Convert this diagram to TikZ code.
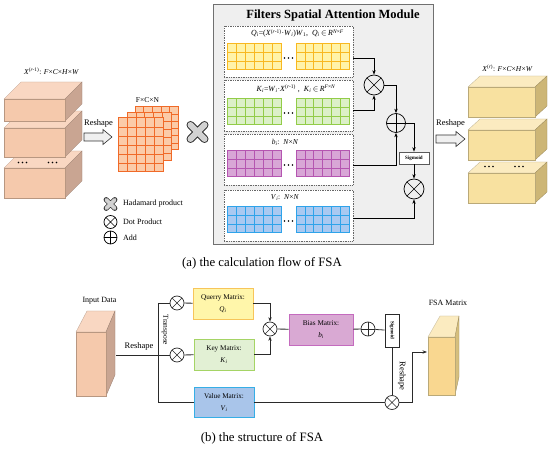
\documentclass[tikz,border=0pt]{standalone}
\usepackage{fontspec}
\setmainfont{Liberation Serif}
\usetikzlibrary{arrows.meta}

\definecolor{peachF}{HTML}{F5C9AC}
\definecolor{peachT}{HTML}{F9D7C2}
\definecolor{peachS}{HTML}{C9A592}
\definecolor{goldF}{HTML}{F8E1A0}
\definecolor{goldT}{HTML}{FBEBC0}
\definecolor{goldS}{HTML}{CDB676}
\definecolor{orgF}{HTML}{FBCBA8}
\definecolor{orgL}{HTML}{F06A28}
\definecolor{yelF}{HTML}{FFF3A8}
\definecolor{yelL}{HTML}{F8B820}
\definecolor{grnF}{HTML}{DCF0C8}
\definecolor{grnL}{HTML}{92CC48}
\definecolor{purF}{HTML}{D8A6D6}
\definecolor{purL}{HTML}{B455B0}
\definecolor{bluF}{HTML}{A9C9F1}
\definecolor{bluL}{HTML}{2EA3EA}
\definecolor{modbg}{HTML}{EFEFEF}
\definecolor{modline}{HTML}{707070}
\definecolor{qF}{HTML}{FFF6AA}
\definecolor{qL}{HTML}{F7C55A}
\definecolor{kF}{HTML}{E2F0D4}
\definecolor{kL}{HTML}{A5D465}
\definecolor{vF}{HTML}{A9C5EA}
\definecolor{vL}{HTML}{36AEE6}
\definecolor{bF}{HTML}{D9A9D3}
\definecolor{bL}{HTML}{C46BBE}
\definecolor{lnc}{HTML}{2A2A2A}

\newcommand{\ti}[1]{\textit{#1}}
\newcommand{\sbs}[1]{\textsubscript{#1}}
\newcommand{\sps}[1]{\textsuperscript{#1}}

% front-top-left corner (x,y), width, height, depth dx, dy, colours
\newcommand{\mycuboid}[9]{%
  \filldraw[fill=#8,draw=#8!75!black,line width=0.3pt] (#1,#2) -- ++(#5,-#6) -- ++(#3,0) -- ++(-#5,#6) -- cycle;
  \filldraw[fill=#9,draw=#9!75!black,line width=0.3pt] (#1+#3,#2) -- ++(#5,-#6) -- ++(0,#4) -- ++(-#5,#6) -- cycle;
  \filldraw[fill=#7,draw=#7!75!black,line width=0.3pt] (#1,#2) rectangle ++(#3,#4);
}
% grid: x0 y0 x1 y1 cols rows fill line
\newcommand{\mgrid}[8]{%
  \filldraw[fill=#7,draw=#8,line width=1pt] (#1,#2) rectangle (#3,#4);
  \pgfmathsetmacro\mgdx{(#3-#1)/#5}%
  \pgfmathsetmacro\mgdy{(#4-#2)/#6}%
  \pgfmathtruncatemacro\mgc{#5-1}%
  \pgfmathtruncatemacro\mgr{#6-1}%
  \foreach \i in {1,...,\mgc} {\draw[draw=#8,line width=0.6pt] (#1+\i*\mgdx,#2) -- (#1+\i*\mgdx,#4);}
  \foreach \j in {1,...,\mgr} {\draw[draw=#8,line width=0.6pt] (#1,#2+\j*\mgdy) -- (#3,#2+\j*\mgdy);}
}
% hadamard cross: x y arm outerwidth innerwidth
\newcommand{\hada}[5]{%
  \draw[line width=#4pt,draw=gray!40!black,line cap=round] (#1-#3,#2-#3) -- (#1+#3,#2+#3) (#1-#3,#2+#3) -- (#1+#3,#2-#3);
  \draw[line width=#5pt,draw=gray!35,line cap=round] (#1-#3,#2-#3) -- (#1+#3,#2+#3) (#1-#3,#2+#3) -- (#1+#3,#2-#3);
}
% hollow block arrow: x0 x1 yc
\newcommand{\barrow}[3]{%
  \filldraw[fill=gray!12,draw=gray!40!black,line width=0.6pt] (#1,#3-4) -- (#2-9,#3-4) -- (#2-9,#3-7.5) -- (#2,#3) -- (#2-9,#3+7.5) -- (#2-9,#3+4) -- (#1,#3+4) -- cycle;
}
\newcommand{\threedots}[2]{%
  \fill (#1-4,#2) circle (0.85) (#1,#2) circle (0.85) (#1+4,#2) circle (0.85);
}

\begin{document}
\begin{tikzpicture}[x=1pt,y=-1pt,
  >={Stealth[length=4.5pt,width=3.4pt]},
  lab/.style={font=\fontsize{8}{9.5}\selectfont,inner sep=0pt},
  otimes/.style={circle,draw,inner sep=0pt,minimum size=#1,line width=0.7pt,
    path picture={\draw[line width=0.7pt] (path picture bounding box.north west)--(path picture bounding box.south east)
      (path picture bounding box.north east)--(path picture bounding box.south west);}},
  oplus/.style={circle,draw,inner sep=0pt,minimum size=#1,line width=0.7pt,
    path picture={\draw[line width=0.7pt] (path picture bounding box.north)--(path picture bounding box.south)
      (path picture bounding box.east)--(path picture bounding box.west);}},
  ibox/.style={draw=gray!80!black,densely dotted,fill=white,line width=0.7pt,inner sep=0pt,minimum width=129,minimum height=51},
  sigbox/.style={draw=gray!70!black,fill=white,line width=0.6pt,inner sep=0pt,font=\fontsize{5}{5}\selectfont\bfseries},
  mbox/.style={draw,line width=0.9pt,inner sep=0pt,align=center,font=\fontsize{7.2}{8.5}\selectfont},
  conn/.style={draw=black,line width=0.8pt},
  bconn/.style={draw=lnc,line width=0.8pt}
]
\useasboundingbox (0,0) rectangle (550,449);

% ---------- left input blocks ----------
\mycuboid{4}{168}{61}{30}{17}{17}{peachF}{peachT}{peachS}
\mycuboid{4}{128}{61}{29}{17}{17}{peachF}{peachT}{peachS}
\mycuboid{4}{99}{61}{22}{17}{17}{peachF}{peachT}{peachS}
\threedots{22.5}{162.5}
\threedots{52.5}{162.5}
\node[lab,font=\fontsize{7.5}{9}\selectfont] (xin) at (51.5,71) {\ti{X}\sps{(\ti{r}-1)}: \ti{F}×\ti{C}×\ti{H}×\ti{W}};

% reshape arrow left
\barrow{84}{112}{137}
\node[lab,font=\fontsize{8.5}{10}\selectfont] (rs1) at (98.5,123) {Reshape};

% orange grid stack
\mgrid{135}{107}{178}{150}{5}{6}{orgF}{orgL}
\mgrid{127}{113}{171}{161}{5}{6}{orgF}{orgL}
\mgrid{118}{118}{163}{172}{5}{6}{orgF}{orgL}
\node[lab,font=\fontsize{7.5}{9}\selectfont] (fcn) at (147.5,100) {F×C×N};

% hadamard
\hada{197.5}{132}{7}{8}{6}

% legend
\hada{110.5}{204}{4.3}{5.2}{3.6}
\node[lab,anchor=west] (lgt1) at (123,204) {Hadamard product};
\node[otimes=13] (lg1) at (110.5,222) {};
\node[lab,anchor=west] (lgt2) at (123,222) {Dot Product};
\node[oplus=13] (lg2) at (110.5,237.5) {};
\node[lab,anchor=west] (lgt3) at (123,237.5) {Add};

% ---------- module ----------
\filldraw[fill=modbg,draw=modline,line width=0.8pt] (213,4) rectangle (433,244);
\node[inner sep=0pt,font=\fontsize{12.5}{14}\selectfont\bfseries] (title) at (333,15.5) {Filters Spatial Attention Module};

\node[ibox] (qbox) at (288.5,51.5) {};
\node[ibox] (kbox) at (288.5,105.5) {};
\node[ibox] (bbox) at (288.5,159.5) {};
\node[ibox] (vbox) at (288.5,215.5) {};

\node[lab,font=\fontsize{7.8}{9}\selectfont] (qt) at (297.5,33.5) {\ti{Q}\sbs{\ti{i}}=(\ti{X}\sps{(\ti{r}-1)}·\ti{W}\sbs{\ti{i}})\ti{W}\sbs{1},\ \ \ti{Q}\sbs{\ti{i}}$\,\in\,$\ti{R}\sps{\ti{N}×\ti{F}}};
\node[lab,font=\fontsize{7.8}{9}\selectfont] (kt) at (296,89) {\ti{K}\sbs{\ti{i}}=\ti{W}\sbs{\ti{i}}·\ti{X}\sps{(\ti{r}-1)}\ ,\ \ \ti{K}\sbs{\ti{i}}$\,\in\,$\ti{R}\sps{\ti{F}×\ti{N}}};
\node[lab,font=\fontsize{7.5}{8}\selectfont] (bt) at (285,142) {\ti{b}\sbs{\ti{i}}:\ \ \ti{N}×\ti{N}};
\node[lab,font=\fontsize{7.5}{8}\selectfont] (vt) at (285,198) {\ti{V}\sbs{\ti{i}}:\ \ \ti{N}×\ti{N}};

\mgrid{227}{44}{281}{70}{6}{3}{yelF}{yelL}
\mgrid{296}{44}{349}{70}{6}{3}{yelF}{yelL}
\threedots{288.5}{58}
\mgrid{227}{99}{281}{125}{6}{3}{grnF}{grnL}
\mgrid{296}{99}{349}{125}{6}{3}{grnF}{grnL}
\threedots{288.5}{113}
\mgrid{227}{151}{281}{177}{6}{3}{purF}{purL}
\mgrid{296}{151}{349}{177}{6}{3}{purF}{purL}
\threedots{288.5}{165}
\mgrid{227}{207}{281}{233}{6}{3}{bluF}{bluL}
\mgrid{296}{207}{349}{233}{6}{3}{bluF}{bluL}
\threedots{288.5}{221}

\node[otimes=20] (dot1) at (374,85) {};
\node[oplus=19] (add1) at (396,123) {};
\node[sigbox,minimum width=30,minimum height=12] (sig1) at (414,158) {Sigmoid};
\node[otimes=20] (dot2) at (414,189) {};

\coordinate (qo) at (353,58);
\coordinate (ko) at (353,110);
\coordinate (bo) at (353,165);
\coordinate (vo) at (353,218);
\draw[conn,->] (qo) -| (dot1.north);
\draw[conn,->] (ko) -| (dot1.south);
\draw[conn,->] (dot1.east) -| (add1.north);
\draw[conn,->] (bo) -| (add1.south);
\draw[conn,->] (add1.east) -| (sig1.north);
\draw[conn,->] (sig1) -- (dot2);
\draw[conn,->] (vo) -| (dot2.south);

% reshape arrow right
\barrow{436}{465}{139}
\node[lab,font=\fontsize{8.5}{10}\selectfont] (rs2) at (450.5,123) {Reshape};

% ---------- right output blocks ----------
\mycuboid{468}{173}{67}{30}{12}{11}{goldF}{goldT}{goldS}
\mycuboid{468}{130}{67}{30}{12}{11}{goldF}{goldT}{goldS}
\mycuboid{468}{87}{67}{30}{12}{11}{goldF}{goldT}{goldS}
\threedots{489}{166.5}
\threedots{519}{166.5}
\node[lab,font=\fontsize{7.5}{9}\selectfont] (xout) at (507.5,68) {\ti{X}\sps{(\ti{r})}: \ti{F}×\ti{C}×\ti{H}×\ti{W}};

% caption a
\node[inner sep=0pt,font=\fontsize{12.8}{14}\selectfont] (capa) at (262,263.5) {(a) the calculation flow of FSA};

% ---------- part (b) ----------
% input data box
\filldraw[fill=peachT,draw=peachT!75!black,line width=0.3pt] (76,332) -- (87,311) -- (115,311) -- (106,332) -- cycle;
\filldraw[fill=peachS,draw=peachS!75!black,line width=0.3pt] (106,332) -- (115,311) -- (115,375) -- (106,396) -- cycle;
\filldraw[fill=peachF,draw=peachF!75!black,line width=0.3pt] (76,332) rectangle (106,396);
\node[lab] (indata) at (99.5,301) {Input Data};

% FSA matrix box
\filldraw[fill=goldT,draw=goldT!75!black,line width=0.3pt] (428,337) -- (440,316) -- (459,316) -- (455,337) -- cycle;
\filldraw[fill=goldS!80!goldF,draw=goldS!75!black,line width=0.3pt] (455,337) -- (459,316) -- (459,377) -- (455,395) -- cycle;
\filldraw[fill=goldF!90!orange,draw=goldF!75!black,line width=0.3pt] (428,337) rectangle (455,395);
\node[lab] (fsat) at (448,303) {FSA Matrix};

\coordinate (inR) at (116,355);
\coordinate (t1) at (158,303);
\coordinate (t2) at (158,355);
\coordinate (t3) at (158,402.5);

\node[otimes=14,fill=white,draw=lnc] (ma) at (177,303) {};
\node[otimes=14,fill=white,draw=lnc] (mb) at (177,355) {};
\node[mbox,fill=qF,draw=qL,minimum width=60,minimum height=31] (qm) at (223,303.5) {Querry Matrix:\\[3.5pt]\ti{Q}\sbs{\ti{i}}};
\node[mbox,fill=kF,draw=kL,minimum width=60,minimum height=31] (km) at (224,354.5) {Key Matrix:\\[3.5pt]\ti{K}\sbs{\ti{i}}};
\node[mbox,fill=vF,draw=vL,minimum width=60,minimum height=30] (vm) at (224,402.5) {Value Matrix:\\[3.5pt]\ti{V}\sbs{\ti{i}}};
\node[otimes=14,fill=white,draw=lnc] (mc) at (270,329) {};
\node[mbox,fill=bF,draw=bL,minimum width=64,minimum height=31] (bm) at (321,329.5) {Bias Matrix:\\[3.5pt]\ti{b}\sbs{\ti{i}}};
\node[oplus=14,fill=white,draw=lnc] (pe) at (368,329) {};
\node[sigbox,rotate=-90,minimum width=33,minimum height=14,draw=lnc] (sg) at (392,330.5) {Sigmoid};
\node[otimes=14,fill=white,draw=lnc] (md) at (392,402.5) {};

\draw[bconn] (inR) -- (t2);
\draw[bconn] (t1) -- (t3);
\draw[bconn] (t1) -- (ma);
\draw[bconn] (ma) -- (qm);
\draw[bconn] (t2) -- (mb);
\draw[bconn] (mb) -- (km);
\draw[bconn] (t3) -- (vm);
\draw[bconn] (vm) -- (md);
\draw[bconn,->] (qm.east) -| (mc.north);
\draw[bconn,->] (km.east) -| (mc.south);
\draw[bconn] (mc) -- (bm);
\draw[bconn] (bm) -- (pe);
\draw[bconn] (pe) -- (sg);
\draw[bconn] (sg) -- (md);
\coordinate (rc) at (412,352);
\coordinate (fin) at (427,352);
\draw[bconn,->] (md.east) -| (rc) -- (fin);

\node[lab,font=\fontsize{8.5}{10}\selectfont] (rs3) at (139,346) {Reshape};
\node[lab,font=\fontsize{7.5}{9}\selectfont,rotate=-90] (tp) at (165,330) {Transpose};
\node[lab,font=\fontsize{8.5}{10}\selectfont,rotate=-90] (rs4) at (402,376) {Reshape};

% caption b
\node[inner sep=0pt,font=\fontsize{12.8}{14}\selectfont] (capb) at (262,438) {(b) the structure of FSA};
\end{tikzpicture}
\end{document}
